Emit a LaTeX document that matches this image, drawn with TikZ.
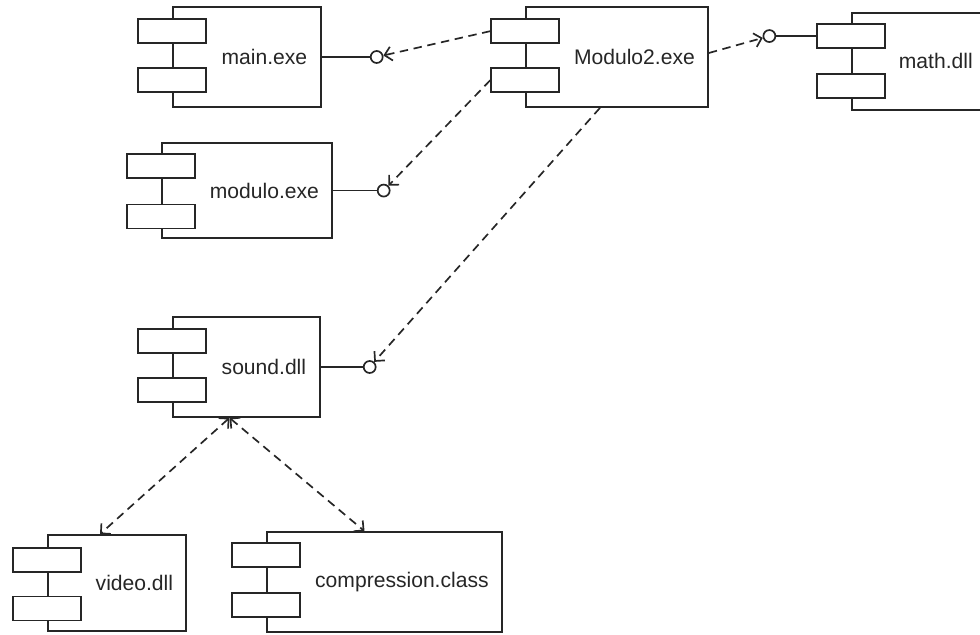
\documentclass[tikz,border=0pt]{standalone}
\usepackage{fontspec}
\setmainfont{Liberation Sans}
\usetikzlibrary{positioning,calc,arrows.meta}

\begin{document}
\begin{tikzpicture}[line width=1.2pt, black!85,
    every node/.style={font=\fontsize{15}{18}\selectfont},
    body/.style={draw, rectangle, inner sep=0pt},
    tab/.style={draw, fill=white, rectangle, minimum width=1.7cm, minimum height=0.6cm, inner sep=0pt},
    iface/.style={draw, circle, fill=white, minimum size=0.3cm, inner sep=0pt},
    dep/.style={dash pattern=on 6pt off 4pt, -{Straight Barb[length=5pt, width=10pt]}},
    depboth/.style={dash pattern=on 6pt off 4pt, {Straight Barb[length=5pt, width=10pt]}-{Straight Barb[length=5pt, width=10pt]}}]
    \useasboundingbox (0,0) rectangle (24.5,15.875);
    \clip (0,0) rectangle (24.5,15.875);
    % componenti
    \node[body, minimum width=3.7cm, minimum height=2.5cm] (main) at (6.175,14.45) {};
    \node[tab, yshift=-0.625cm] (main-t1) at (main.north west) {};
    \node[tab, yshift=-1.85cm] (main-t2) at (main.north west) {};
    \node (main-l) at ($(main-t1.east |- main.center)!0.5!(main.east)$) {main.exe};

    \node[body, minimum width=4.55cm, minimum height=2.5cm] (mod2) at (15.425,14.45) {};
    \node[tab, yshift=-0.625cm] (mod2-t1) at (mod2.north west) {};
    \node[tab, yshift=-1.85cm] (mod2-t2) at (mod2.north west) {};
    \node (mod2-l) at ($(mod2-t1.east |- mod2.center)!0.5!(mod2.east)$) {Modulo2.exe};

    \node[body, minimum width=3.325cm, minimum height=2.425cm] (math) at (22.96,14.34) {};
    \node[tab, yshift=-0.6cm] (math-t1) at (math.north west) {};
    \node[tab, yshift=-1.85cm] (math-t2) at (math.north west) {};
    \node (math-l) at ($(math-t1.east |- math.center)!0.5!(math.east)$) {math.dll};

    \node[body, minimum width=4.25cm, minimum height=2.375cm] (modulo) at (6.175,11.11) {};
    \node[tab, yshift=-0.6cm] (modulo-t1) at (modulo.north west) {};
    \node[tab, yshift=-1.86cm] (modulo-t2) at (modulo.north west) {};
    \node (modulo-l) at ($(modulo-t1.east |- modulo.center)!0.5!(modulo.east)$) {modulo.exe};

    \node[body, minimum width=3.675cm, minimum height=2.5cm] (sound) at (6.1625,6.7) {};
    \node[tab, yshift=-0.625cm] (sound-t1) at (sound.north west) {};
    \node[tab, yshift=-1.85cm] (sound-t2) at (sound.north west) {};
    \node (sound-l) at ($(sound-t1.east |- sound.center)!0.5!(sound.east)$) {sound.dll};

    \node[body, minimum width=3.45cm, minimum height=2.4cm] (video) at (2.925,1.3) {};
    \node[tab, yshift=-0.64cm] (video-t1) at (video.north west) {};
    \node[tab, yshift=-1.86cm] (video-t2) at (video.north west) {};
    \node (video-l) at ($(video-t1.east |- video.center)!0.5!(video.east)$) {video.dll};

    \node[body, minimum width=5.875cm, minimum height=2.5cm] (comp) at (9.6125,1.325) {};
    \node[tab, yshift=-0.6cm] (comp-t1) at (comp.north west) {};
    \node[tab, yshift=-1.85cm] (comp-t2) at (comp.north west) {};
    \node (comp-l) at ($(comp-t1.east |- comp.center)!0.5!(comp.east)$) {compression.class};

    % interfacce (lollipop)
    \node[iface, right=1.2cm of main] (main-i) {};
    \node[iface, right=1.1cm of modulo] (modulo-i) {};
    \node[iface, right=1.05cm of sound] (sound-i) {};
    \node[iface, left=1cm of math-t1] (math-i) {};
    \draw (main) -- (main-i);
    \draw (modulo) -- (modulo-i);
    \draw (sound) -- (sound-i);
    \draw (math-t1) -- (math-i);

    % dipendenze
    \draw[dep] (mod2-t1.west) -- (main-i);
    \draw[dep] (mod2-t2.west) -- (modulo-i);
    \draw[dep] ([xshift=-0.425cm]mod2.south) -- (sound-i);
    \draw[dep] ([yshift=0.1cm]mod2.east) -- (math-i);
    \draw[depboth] ([xshift=-0.425cm]sound.south) -- ([xshift=-0.425cm]video.north);
    \draw[depboth] ([xshift=-0.425cm]sound.south) -- ([xshift=-0.5cm]comp.north);
\end{tikzpicture}
\end{document}
